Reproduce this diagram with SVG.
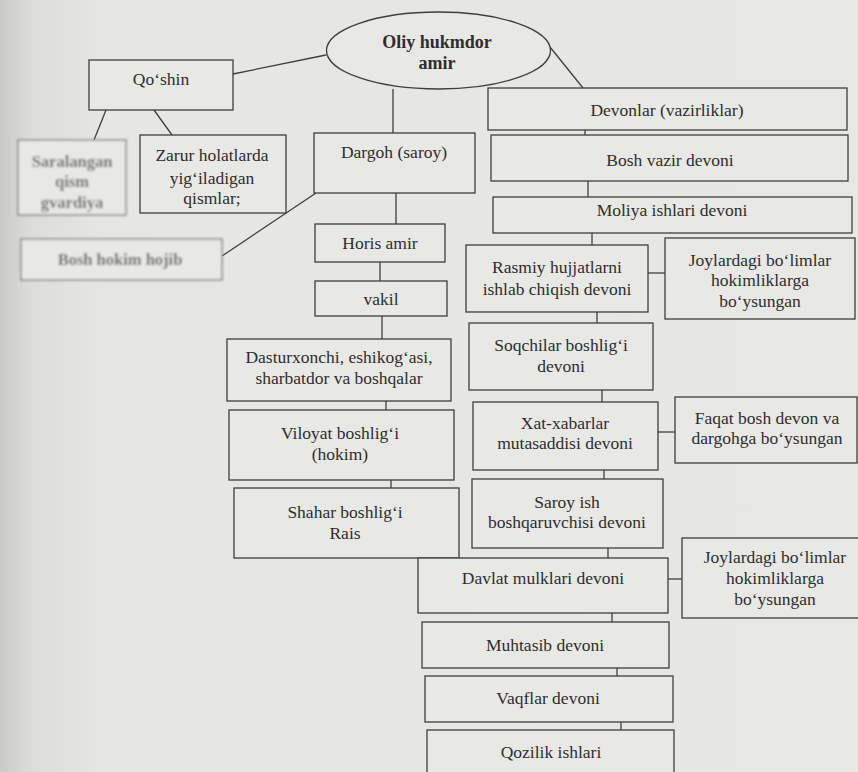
<svg xmlns="http://www.w3.org/2000/svg" width="858" height="772" viewBox="0 0 858 772">
<style>
.b{fill:#e8e8e5;stroke:#3e3e3e;stroke-width:1.3}
.c{stroke:#3e3e3e;stroke-width:1.3;fill:none}
text{font-family:'Liberation Serif','DejaVu Serif','Noto Serif',serif;font-size:17.5px;fill:#2e2e2e;text-anchor:middle}
.bold{font-weight:bold;font-size:18px}
.blur{filter:url(#bl)}
.faint .b{stroke:#7a7a7a}
.faint text{fill:#6e6e6e;font-weight:bold;font-size:16.5px}
</style>
<defs>
<linearGradient id="edge" x1="0" y1="0" x2="1" y2="0">
<stop offset="0" stop-color="#c9c9c6"/>
<stop offset="0.035" stop-color="#dcdcd9"/>
<stop offset="0.12" stop-color="#e6e6e3"/>
<stop offset="1" stop-color="#e7e7e4"/>
</linearGradient>
<filter id="bl" x="-10%" y="-20%" width="120%" height="140%"><feGaussianBlur stdDeviation="0.9"/></filter>
</defs>
<rect x="0" y="0" width="858" height="772" fill="url(#edge)"/>

<g id="connectors">
<line class="c" x1="326" y1="55" x2="233" y2="74"/>
<line class="c" x1="550" y1="47" x2="583" y2="88"/>
<line class="c" x1="393" y1="89" x2="393" y2="133"/>
<line class="c" x1="106" y1="110" x2="94" y2="140"/>
<line class="c" x1="154" y1="110" x2="172" y2="135"/>
<line class="c" x1="316" y1="193" x2="222" y2="256"/>
<line class="c" x1="396" y1="193" x2="396" y2="224"/>
<line class="c" x1="380" y1="262" x2="380" y2="281"/>
<line class="c" x1="382" y1="316" x2="382" y2="339"/>
<line class="c" x1="386" y1="401" x2="386" y2="410"/>
<line class="c" x1="391" y1="480" x2="391" y2="488"/>
<line class="c" x1="585" y1="130" x2="585" y2="135"/>
<line class="c" x1="588" y1="181" x2="588" y2="197"/>
<line class="c" x1="592" y1="233" x2="592" y2="245"/>
<line class="c" x1="648" y1="273" x2="665" y2="273"/>
<line class="c" x1="597" y1="312" x2="597" y2="323"/>
<line class="c" x1="602" y1="390" x2="602" y2="402"/>
<line class="c" x1="658" y1="432" x2="675" y2="432"/>
<line class="c" x1="604" y1="470" x2="604" y2="479"/>
<line class="c" x1="608" y1="548" x2="608" y2="558"/>
<line class="c" x1="668" y1="579" x2="682" y2="579"/>
<line class="c" x1="612" y1="613" x2="612" y2="622"/>
<line class="c" x1="617" y1="668" x2="617" y2="676"/>
<line class="c" x1="621" y1="722" x2="621" y2="730"/>
</g>

<g id="amir">
<ellipse class="b" cx="438.5" cy="50.5" rx="112" ry="38.5"/>
<text class="bold" x="437" y="48">Oliy hukmdor</text>
<text class="bold" x="437" y="69">amir</text>
</g>

<g id="qoshin">
<rect class="b" x="89" y="60" width="144" height="50"/>
<text x="161" y="85">Qo‘shin</text>
</g>

<g id="saralangan" class="faint blur">
<rect class="b" x="18" y="140" width="108" height="75"/>
<text x="72" y="167">Saralangan</text>
<text x="72" y="187">qism</text>
<text x="72" y="208">gvardiya</text>
</g>

<g id="zarur">
<rect class="b" x="140" y="135" width="146" height="78"/>
<text x="212" y="161">Zarur holatlarda</text>
<text x="212" y="184">yig‘iladigan</text>
<text x="212" y="204">qismlar;</text>
</g>

<g id="boshhokim" class="faint blur">
<rect class="b" x="21" y="239" width="201" height="41"/>
<text x="120" y="265">Bosh hokim hojib</text>
</g>

<g id="dargoh">
<rect class="b" x="314" y="133" width="161" height="60"/>
<text x="394" y="158">Dargoh (saroy)</text>
</g>

<g id="horis">
<rect class="b" x="315" y="224" width="130" height="38"/>
<text x="380" y="249">Horis amir</text>
</g>

<g id="vakil">
<rect class="b" x="315" y="281" width="132" height="35"/>
<text x="381" y="305">vakil</text>
</g>

<g id="dasturxonchi">
<rect class="b" x="227" y="339" width="224" height="62"/>
<text x="339" y="363">Dasturxonchi, eshikog‘asi,</text>
<text x="339" y="384">sharbatdor va boshqalar</text>
</g>

<g id="viloyat">
<rect class="b" x="229" y="410" width="225" height="70"/>
<text x="340" y="439">Viloyat boshlig‘i</text>
<text x="340" y="460">(hokim)</text>
</g>

<g id="shahar">
<rect class="b" x="234" y="488" width="225" height="70"/>
<text x="345" y="518">Shahar boshlig‘i</text>
<text x="345" y="539">Rais</text>
</g>

<g id="devonlar">
<rect class="b" x="488" y="88" width="359" height="42"/>
<text x="667" y="116">Devonlar (vazirliklar)</text>
</g>

<g id="boshvazir">
<rect class="b" x="491" y="135" width="357" height="46"/>
<text x="670" y="166">Bosh vazir devoni</text>
</g>

<g id="moliya">
<rect class="b" x="493" y="197" width="359" height="36"/>
<text x="672" y="216">Moliya ishlari devoni</text>
</g>

<g id="rasmiy">
<rect class="b" x="466" y="245" width="182" height="67"/>
<text x="557" y="273">Rasmiy hujjatlarni</text>
<text x="557" y="295">ishlab chiqish devoni</text>
</g>

<g id="joylardagi1">
<rect class="b" x="665" y="238" width="190" height="81"/>
<text x="760" y="266">Joylardagi bo‘limlar</text>
<text x="760" y="286">hokimliklarga</text>
<text x="760" y="307">bo‘ysungan</text>
</g>

<g id="soqchilar">
<rect class="b" x="469" y="323" width="184" height="67"/>
<text x="561" y="351">Soqchilar boshlig‘i</text>
<text x="561" y="372">devoni</text>
</g>

<g id="xatxabarlar">
<rect class="b" x="473" y="402" width="185" height="68"/>
<text x="565" y="429">Xat-xabarlar</text>
<text x="565" y="449">mutasaddisi devoni</text>
</g>

<g id="faqat">
<rect class="b" x="675" y="397" width="182" height="66"/>
<text x="767" y="424">Faqat bosh devon va</text>
<text x="767" y="444">dargohga bo‘ysungan</text>
</g>

<g id="saroyish">
<rect class="b" x="472" y="479" width="191" height="69"/>
<text x="567" y="508">Saroy ish</text>
<text x="567" y="528">boshqaruvchisi devoni</text>
</g>

<g id="davlat">
<rect class="b" x="418" y="558" width="250" height="55"/>
<text x="543" y="584">Davlat mulklari devoni</text>
</g>

<g id="joylardagi2">
<rect class="b" x="682" y="538" width="180" height="80"/>
<text x="775" y="563">Joylardagi bo‘limlar</text>
<text x="775" y="584">hokimliklarga</text>
<text x="775" y="605">bo‘ysungan</text>
</g>

<g id="muhtasib">
<rect class="b" x="422" y="622" width="247" height="46"/>
<text x="545" y="651">Muhtasib devoni</text>
</g>

<g id="vaqflar">
<rect class="b" x="425" y="676" width="248" height="46"/>
<text x="548" y="704">Vaqflar devoni</text>
</g>

<g id="qozilik">
<rect class="b" x="427" y="730" width="247" height="60"/>
<text x="551" y="758">Qozilik ishlari</text>
</g>
</svg>
